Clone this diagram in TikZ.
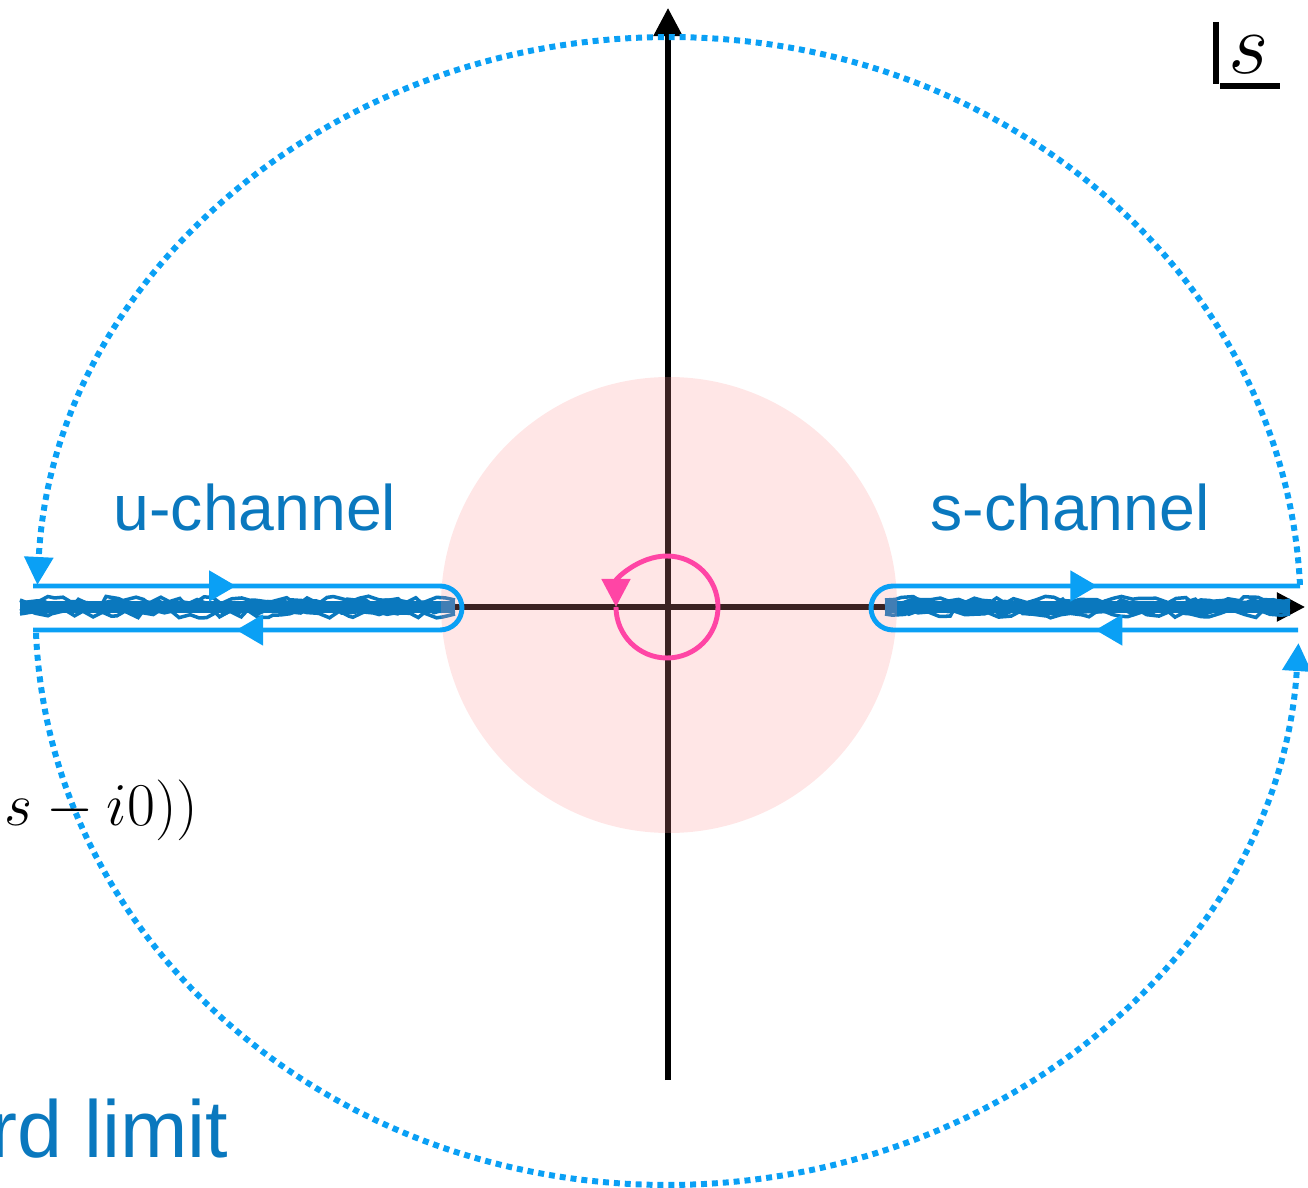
\documentclass[tikz,border=0pt]{standalone}
\usepackage{amsmath}
\usepackage{fontspec}
\usetikzlibrary{arrows.meta,decorations.markings,decorations.pathmorphing}
\newfontfamily\channelfont{Liberation Sans}
\definecolor{planeink}{HTML}{000000}
\definecolor{contourblue}{HTML}{0AA0F5}
\definecolor{cutblue}{HTML}{0A78BE}
\definecolor{discpink}{HTML}{FF9494}
\definecolor{looppink}{HTML}{FF45A5}

\begin{document}
\begin{tikzpicture}[
  x=0.01cm,
  y=-0.01cm,
  every node/.style={inner sep=0pt},
  tip/.style={-{Triangle[length=0.28cm,width=0.28cm]}},
  axisline/.style={planeink, line width=1.5pt},
  contour/.style={contourblue, line width=1.4pt},
  dotline/.style={contourblue, line width=1.7pt, dash pattern=on 1.7pt off 1.4pt},
  cutline/.style={cutblue, line width=3.6pt},
  cutedge/.style={cutblue, line width=1pt, decorate,
    decoration={random steps, segment length=2.5pt, amplitude=1.1pt}},
  midtips/.style={postaction={decorate}, decoration={markings,
    mark=at position 0.23 with {\arrow{Triangle[length=0.27cm,width=0.3cm]}},
    mark=at position 0.77 with {\arrow{Triangle[length=0.27cm,width=0.3cm]}}}},
  channel/.style={font=\channelfont\fontsize{18.3}{22}\selectfont, text=cutblue}
]
  \useasboundingbox (0,0) rectangle (1308,1188);

  \coordinate (O) at (668,607);
  \coordinate (reL) at (20,607);
  \coordinate (reR) at (1305,607);
  \coordinate (imB) at (668,1080);
  \coordinate (imT) at (668,8);

  % axes
  \draw[axisline, tip] (imB) -- (imT);
  \draw[axisline, tip] (reL) -- (reR);

  % branch cuts
  \coordinate (cutLa) at (20,607);
  \coordinate (cutLb) at (455,607);
  \coordinate (cutRa) at (885,607);
  \coordinate (cutRb) at (1290,607);
  \draw[cutline] (cutLa) -- (cutLb);
  \draw[cutline] (cutRa) -- (cutRb);
  \foreach \dy in {-7,-4,4,7} {
    \draw[cutedge] ([yshift=\dy*0.01cm]cutLa) -- ([yshift=\dy*0.01cm]cutLb);
    \draw[cutedge] ([yshift=\dy*0.01cm]cutRa) -- ([yshift=\dy*0.01cm]cutRb);
  }

  \fill[discpink, fill opacity=0.23] (669,605) circle[radius=228];

  % big arcs
  \draw[dotline, tip] (1300,585) arc[start angle=-2.6, end angle=-177.4, x radius=632, y radius=574];
  \draw[dotline, tip] (36,633) arc[start angle=177.8, end angle=3.2, x radius=632, y radius=574];

  % keyholes
  \draw[contour, midtips] (33,586) -- (440,586) arc[start angle=-90, end angle=90, radius=22] -- (33,630);
  \draw[contour, midtips] (1298,630) -- (893,630) arc[start angle=90, end angle=270, radius=22] -- (1300,586);

  \draw[looppink, line width=1.4pt, tip] (616,607) arc[start angle=180, end angle=-180, radius=51];

  \node[channel] (uch) at (255,507) {u-channel};
  \node[channel] (sch) at (1070,507) {s-channel};
  \node[channel, font=\channelfont\fontsize{23}{27}\selectfont, anchor=base east] (lim) at (229,1157) {rd limit};
  \node[anchor=base west, font=\fontsize{18}{22}\selectfont] (disc) at (4,826) {$s - i0))$};

  \draw[axisline] (1216,22) -- (1216,84);
  \draw[axisline] (1220,86) -- (1280,86);
  \node[anchor=base, font=\fontsize{25}{29}\selectfont] (plane) at (1249,74) {$s$};
\end{tikzpicture}
\end{document}
